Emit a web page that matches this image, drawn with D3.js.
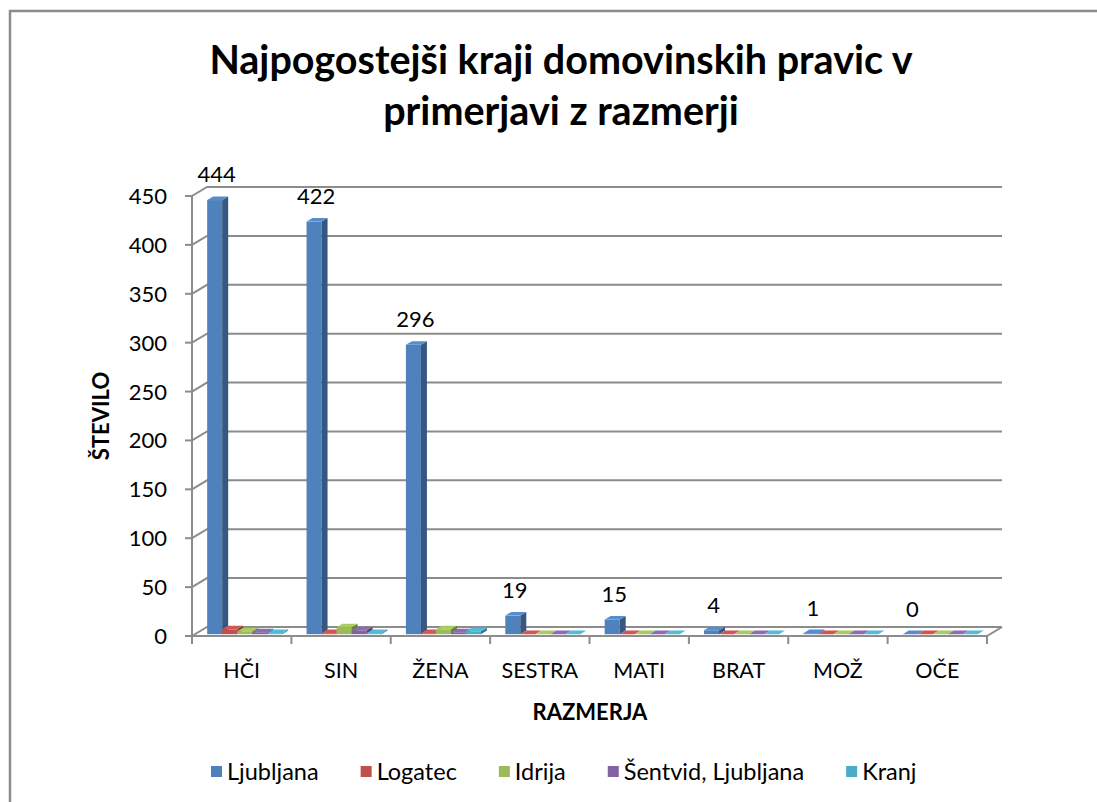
<!DOCTYPE html>
<html>
<head>
<meta charset="utf-8">
<script src="https://cdn.jsdelivr.net/npm/d3@7"></script>
<style>
  body { margin: 0; background: #fff; }
  text { font-family: Lato, "Open Sans", sans-serif; fill: #000; }
</style>
</head>
<body>
<div class="chart"></div>
<script>
// data
const categories = ["HČI", "SIN", "ŽENA", "SESTRA", "MATI", "BRAT", "MOŽ", "OČE"];
const seriesNames = ["Ljubljana", "Logatec", "Idrija", "Šentvid, Ljubljana", "Kranj"];
const ljubljana = [444, 422, 296, 19, 15, 4, 1, 0];
const logatec   = [5, 1, 1, 0, 0, 0, 0, 0];
const idrija    = [3, 7, 5, 0, 0, 0, 0, 0];
const sentvid   = [2, 4, 2, 0, 0, 0, 0, 0];
const kranj     = [1, 1, 3, 0, 0, 0, 0, 0];
const yTicks = [0, 50, 100, 150, 200, 250, 300, 350, 400, 450];

const seriesValues = [ljubljana, logatec, idrija, sentvid, kranj];
const colors = ["#4F81BD", "#C0504D", "#9BBB59", "#8064A2", "#4BACC6"];

const W = 1097, H = 802;
const plotLeft = 192, plotRight = 987, plotBottom = 636, plotTop = 196;
const depthX = 15, depthY = -9;   // full depth offset of the 3d box
const z0 = 0.2, z1 = 0.6;         // bars sit in this part of the depth

const svg = d3.select(".chart").append("svg")
    .attr("width", W)
    .attr("height", H)

// chart border
svg.append("rect")
    .attr("x", 10).attr("y", 11)
    .attr("width", 1300).attr("height", 1000)
    .attr("fill", "none")
    .attr("stroke", "#8c8c8c")
    .attr("stroke-width", 2.5)

const xScale = d3.scaleBand()
    .domain(categories)
    .range([plotLeft, plotRight])
    .paddingInner(0.245)
    .paddingOuter(0.1225)

const xEdge = d3.scaleBand()
    .domain(categories)
    .range([plotLeft, plotRight])

const xSeries = d3.scaleBand()
    .domain(seriesNames)
    .range([0, xScale.bandwidth()])

const yScale = d3.scaleLinear()
    .domain([0, 450])
    .range([plotBottom, plotTop])

const gridColor = "#8c8c8c"
const grid = svg.append("g")
    .attr("stroke", gridColor)
    .attr("stroke-width", 2)
    .attr("fill", "none")

// back wall gridlines + left wall diagonals
yTicks.forEach(v => {
  const y = yScale(v)
  grid.append("path")
    .attr("d", `M${plotLeft},${y}L${plotLeft + depthX},${y + depthY}L${plotRight + depthX},${y + depthY}`)
  grid.append("line")
    .attr("x1", plotLeft - 7).attr("x2", plotLeft)
    .attr("y1", y).attr("y2", y)
})
// left wall vertical
grid.append("line")
    .attr("x1", plotLeft).attr("x2", plotLeft)
    .attr("y1", yScale(450)).attr("y2", plotBottom + 1)
// floor front and right edge
grid.append("path")
    .attr("d", `M${plotLeft},${plotBottom}L${plotRight},${plotBottom}L${plotRight + depthX},${plotBottom + depthY}`)
// category ticks
d3.range(categories.length + 1).forEach(i => {
  const x = plotLeft + i * xEdge.step()
  grid.append("line")
    .attr("x1", x).attr("x2", x)
    .attr("y1", plotBottom).attr("y2", plotBottom + 8)
})

// y tick labels
svg.append("g").selectAll("text")
  .data(yTicks)
  .join("text")
    .attr("x", 167)
    .attr("y", d => yScale(d) + 8)
    .attr("text-anchor", "end")
    .style("font-size", "22px")
    .text(d => d)

// x labels
svg.append("g").selectAll("text")
  .data(categories)
  .join("text")
    .attr("x", d => xEdge(d) + xEdge.bandwidth() / 2)
    .attr("y", 678)
    .attr("text-anchor", "middle")
    .style("font-size", "21.5px")
    .text(d => d)

// 3d bars, drawn left to right so nearer faces cover the sides
const shade = (c, k) => d3.color(c).darker(k).formatHex()
const bars = svg.append("g")
categories.forEach((cat, ci) => {
  seriesNames.forEach((s, si) => {
    const v = seriesValues[si][ci]
    const x = xScale(cat) + xSeries(s) + z0 * depthX
    const w = xSeries.bandwidth()
    const yb = plotBottom + z0 * depthY
    const yt = yScale(v) + z0 * depthY
    const dx = (z1 - z0) * depthX, dy = (z1 - z0) * depthY
    const g = bars.append("g")
    g.append("rect")
      .attr("x", x).attr("y", yt)
      .attr("width", w).attr("height", yb - yt)
      .attr("fill", colors[si])
    g.append("path")
      .attr("d", `M${x + w},${yt}L${x + w + dx},${yt + dy}L${x + w + dx},${yb + dy}L${x + w},${yb}Z`)
      .attr("fill", shade(colors[si], 1.1))
    g.append("path")
      .attr("d", `M${x},${yt}L${x + dx},${yt + dy}L${x + w + dx},${yt + dy}L${x + w},${yt}Z`)
      .attr("fill", d3.color(colors[si]).brighter(0.25).formatHex())
  })
})

// data labels on Ljubljana
svg.append("g").selectAll("text")
  .data(ljubljana)
  .join("text")
    .attr("x", (d, i) => xScale(categories[i]) + xSeries(seriesNames[0]) + xSeries.bandwidth() / 2 + z0 * depthX + 2)
    .attr("y", d => yScale(d) + z1 * depthY - 14)
    .attr("text-anchor", "middle")
    .style("font-size", "22px")
    .text(d => d)

// title
svg.append("text")
    .attr("x", 561).attr("y", 74)
    .attr("text-anchor", "middle")
    .style("font-size", "39.5px").style("font-weight", "bold")
    .text("Najpogostejši kraji domovinskih pravic v")
svg.append("text")
    .attr("x", 561).attr("y", 125)
    .attr("text-anchor", "middle")
    .style("font-size", "39.5px").style("font-weight", "bold")
    .text("primerjavi z razmerji")

// axis titles
svg.append("text")
    .attr("x", 590).attr("y", 720)
    .attr("text-anchor", "middle")
    .style("font-size", "22px").style("font-weight", "bold")
    .text("RAZMERJA")
svg.append("text")
    .attr("transform", "translate(109,416) rotate(-90)")
    .attr("text-anchor", "middle")
    .style("font-size", "22px").style("font-weight", "bold")
    .text("ŠTEVILO")

// legend
const legend = svg.append("g")
let lx = 211
seriesNames.forEach((s, i) => {
  legend.append("rect")
    .attr("x", lx).attr("y", 766)
    .attr("width", 11).attr("height", 11)
    .attr("fill", colors[i])
  const t = legend.append("text")
    .attr("x", lx + 16).attr("y", 780)
    .style("font-size", "23.5px")
    .text(s)
  lx += 16 + t.node().getComputedTextLength() + 42
})
</script>
</body>
</html>
